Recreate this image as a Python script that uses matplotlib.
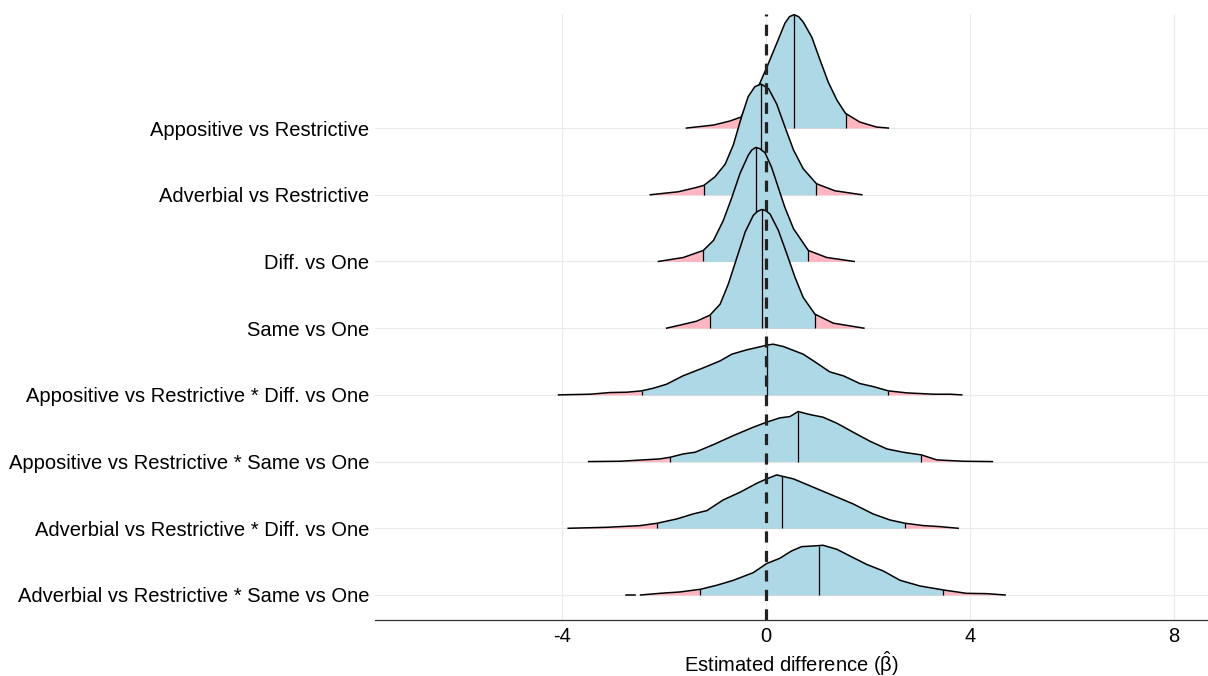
"""
Ridgeline of posterior estimates
"""
import numpy as np
import matplotlib
matplotlib.use("Agg")
import matplotlib.pyplot as plt

plt.rcParams["font.family"] = ["Liberation Sans", "DejaVu Sans"]
plt.rcParams["mathtext.fontset"] = "custom"
plt.rcParams["mathtext.rm"] = "Liberation Sans"
plt.rcParams["mathtext.it"] = "Liberation Sans"
plt.rcParams["axes.unicode_minus"] = False

# row labels, top to bottom
labels = [
    "Appositive vs Restrictive",
    "Adverbial vs Restrictive",
    "Diff. vs One",
    "Same vs One",
    "Appositive vs Restrictive * Diff. vs One",
    "Appositive vs Restrictive * Same vs One",
    "Adverbial vs Restrictive * Diff. vs One",
    "Adverbial vs Restrictive * Same vs One",
]

# density outlines (x, height in row units)
x_app = [-1.56, -1.03, -0.71, -0.49, -0.35, -0.18, 0.01, 0.21, 0.37, 0.46, 0.55, 0.64, 0.73,
         0.90, 1.06, 1.22, 1.39, 1.56, 1.84, 2.17, 2.40]
h_app = [0, 0.045, 0.105, 0.165, 0.345, 0.57, 0.90, 1.27, 1.57, 1.67, 1.70, 1.67, 1.59,
         1.36, 1.02, 0.69, 0.42, 0.22, 0.09, 0.015, 0]

x_adv = [-2.27, -1.72, -1.39, -1.22, -1.00, -0.80, -0.64, -0.48, -0.35, -0.22, -0.10, 0.05,
         0.21, 0.37, 0.54, 0.73, 0.99, 1.35, 1.88]
h_adv = [0, 0.045, 0.105, 0.14, 0.27, 0.46, 0.75, 1.17, 1.47, 1.62, 1.66, 1.59,
         1.36, 1.02, 0.67, 0.39, 0.165, 0.06, 0]

x_diff = [-2.11, -1.62, -1.23, -1.03, -0.84, -0.67, -0.51, -0.35, -0.28, -0.20, -0.12, -0.02,
          0.11, 0.24, 0.37, 0.54, 0.83, 1.19, 1.73]
h_diff = [0, 0.06, 0.165, 0.315, 0.61, 0.96, 1.32, 1.59, 1.67, 1.71, 1.69, 1.63,
          1.41, 1.11, 0.81, 0.49, 0.165, 0.06, 0]

x_same = [-1.95, -1.69, -1.36, -1.10, -0.90, -0.74, -0.57, -0.41, -0.25, -0.17, -0.08, 0.00,
          0.08, 0.24, 0.41, 0.57, 0.73, 0.96, 1.32, 1.92]
h_same = [0, 0.045, 0.105, 0.195, 0.36, 0.66, 1.06, 1.44, 1.69, 1.75, 1.78, 1.76,
          1.71, 1.47, 1.11, 0.76, 0.46, 0.21, 0.075, 0]

x_app_diff = [-4.07, -3.45, -3.06, -2.73, -2.44, -2.21, -1.95, -1.63, -1.23, -0.90, -0.67, -0.38,
              -0.12, 0.01, 0.14, 0.34, 0.73, 0.99, 1.25, 1.52, 1.84, 2.10, 2.40, 2.76, 3.28,
              3.61, 3.84]
h_app_diff = [0, 0.01, 0.035, 0.04, 0.06, 0.10, 0.16, 0.285, 0.405, 0.51, 0.61, 0.675,
              0.72, 0.745, 0.76, 0.725, 0.61, 0.48, 0.345, 0.285, 0.17, 0.125, 0.06, 0.03, 0.01,
              0.01, 0]

x_app_same = [-3.48, -2.86, -2.08, -1.88, -1.62, -1.39, -1.03, -0.64, -0.25, 0.01, 0.27, 0.47,
              0.63, 0.86, 1.12, 1.39, 1.71, 2.04, 2.37, 2.69, 3.05, 3.35, 3.87, 4.44]
h_app_same = [0, 0.005, 0.04, 0.065, 0.115, 0.14, 0.255, 0.39, 0.515, 0.59, 0.655, 0.675,
              0.75, 0.705, 0.665, 0.575, 0.44, 0.305, 0.19, 0.14, 0.10, 0.025, 0.005, 0]

x_adv_diff = [-3.88, -3.12, -2.47, -2.14, -1.75, -1.43, -1.16, -0.84, -0.51, -0.18, 0.01, 0.21,
              0.54, 0.93, 1.32, 1.71, 2.10, 2.43, 2.73, 3.09, 3.41, 3.77]
h_adv_diff = [0, 0.015, 0.04, 0.075, 0.14, 0.215, 0.265, 0.425, 0.54, 0.675, 0.74, 0.80,
              0.74, 0.615, 0.49, 0.365, 0.215, 0.125, 0.075, 0.04, 0.025, 0]

x_adv_same = [-2.46, -2.08, -1.69, -1.29, -0.97, -0.64, -0.25, 0.01, 0.27, 0.50, 0.70, 0.93,
              1.12, 1.39, 1.71, 1.97, 2.30, 2.63, 3.02, 3.48, 3.93, 4.33, 4.69]
h_adv_same = [0, 0.025, 0.045, 0.085, 0.145, 0.22, 0.335, 0.47, 0.55, 0.66, 0.725, 0.735,
              0.745, 0.685, 0.56, 0.46, 0.36, 0.22, 0.135, 0.075, 0.025, 0.02, 0]

# 2.5%, 50%, 97.5% quantiles
q_low = [-0.49, -1.22, -1.23, -1.10, -2.44, -1.88, -2.14, -1.29]
q_med = [0.55, -0.10, -0.20, -0.08, 0.01, 0.63, 0.31, 1.03]
q_high = [1.56, 0.99, 0.83, 0.96, 2.40, 3.05, 2.73, 3.48]

# stray piece of outline left of the last ridge
stray_x = [-2.75, -2.57]

xs = [x_app, x_adv, x_diff, x_same, x_app_diff, x_app_same, x_adv_diff, x_adv_same]
hs = [h_app, h_adv, h_diff, h_same, h_app_diff, h_app_same, h_adv_diff, h_adv_same]

fig = plt.figure(figsize=(12.08, 6.76), dpi=100)
ax = fig.add_axes([375 / 1208, 56 / 676, 833 / 1208, 606 / 676])

n = len(labels)
for i, (x, h) in enumerate(zip(xs, hs)):
    base = n - i
    x = np.asarray(x)
    h = np.asarray(h)
    z = 3 + i
    inner = (x >= q_low[i]) & (x <= q_high[i])
    ax.fill_between(x, base, base + h, color="#FFB6C1", lw=0, zorder=z)
    hl = np.interp(q_low[i], x, h)
    hh = np.interp(q_high[i], x, h)
    xi = np.concatenate([[q_low[i]], x[inner], [q_high[i]]])
    hi = np.concatenate([[hl], h[inner], [hh]])
    ax.fill_between(xi, base, base + hi, color="#ADD8E6", lw=0, zorder=z)
    for q in (q_low[i], q_med[i], q_high[i]):
        ax.plot([q, q], [base, base + np.interp(q, x, h)], color="black", lw=0.9,
                zorder=z, solid_capstyle="butt")
    ax.plot(x, base + h, color="black", lw=1.1, zorder=z, clip_on=False,
            solid_joinstyle="round")
    if i == n - 1:
        ax.plot(stray_x, [base, base], color="black", lw=1.1, zorder=z)

ax.axvline(0, color="#222222", lw=2.3, dashes=(3.5, 2.6), zorder=20)

ax.set_xlim(-7.67, 8.67)
ax.set_ylim(0.625, 9.71)
ax.set_xticks([-4, 0, 4, 8])
ax.set_yticks(range(n, 0, -1))
ax.set_yticklabels(labels)
ax.grid(True, color="#EBEBEB", lw=0.8, zorder=0)
ax.set_axisbelow(True)
for side in ("top", "right", "left"):
    ax.spines[side].set_visible(False)
ax.spines["bottom"].set_color("#333333")
ax.spines["bottom"].set_linewidth(0.9)
ax.tick_params(axis="both", length=0, labelsize=14.5, colors="black")
ax.tick_params(axis="x", pad=5)
ax.tick_params(axis="y", pad=4)
ax.set_xlabel(r"Estimated difference ($\hat{\beta}$)", fontsize=14.5, va="center")
ax.xaxis.set_label_coords(0.5, -0.0726)

fig.savefig("out.png", dpi=100)
